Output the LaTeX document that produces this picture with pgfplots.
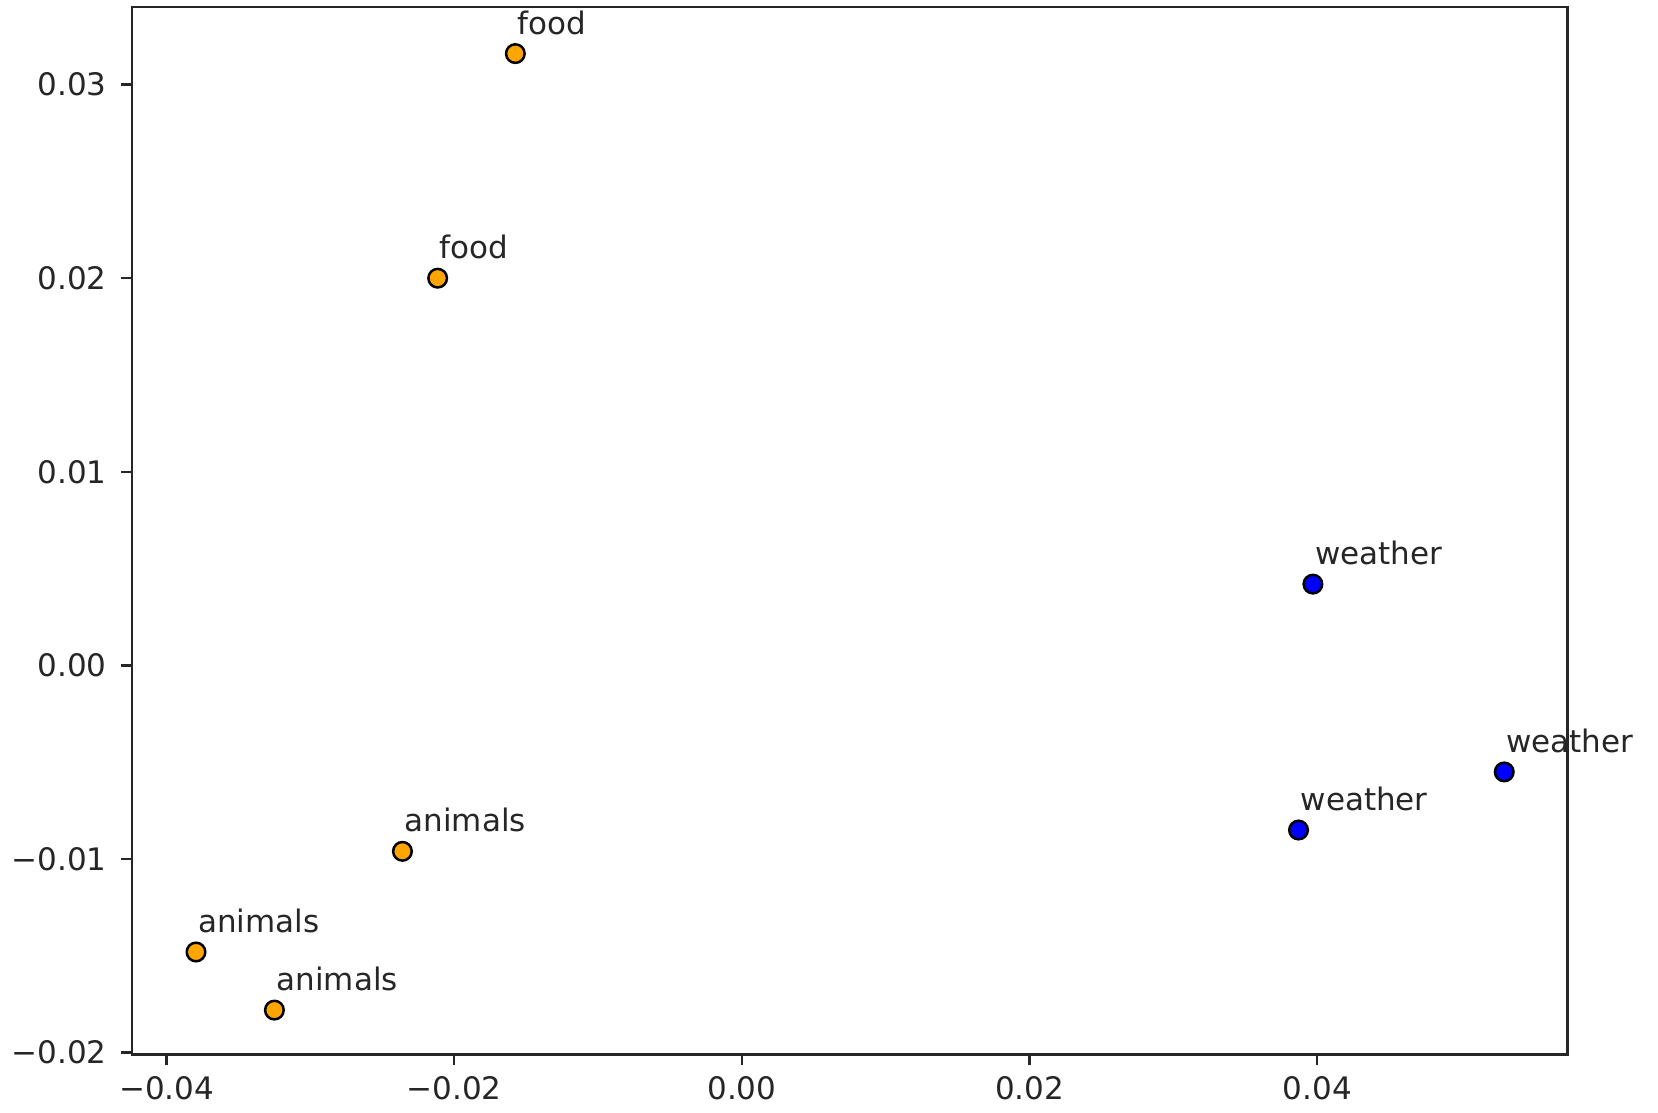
\documentclass[border=0pt]{standalone}
\usepackage{fontspec}
\setmainfont{DejaVu Sans}
\usepackage{pgfplots}
\usepackage{pgfplotstable}
\pgfplotsset{compat=1.18}
\definecolor{mplorange}{HTML}{FFA500}
\definecolor{mplblue}{HTML}{0000FF}
\definecolor{spine}{HTML}{262626}
\pgfplotstableread{
x y label
-0.01575 0.0316 food
-0.02115 0.0200 food
-0.0236 -0.0096 animals
-0.03795 -0.0148 animals
-0.0325 -0.0178 animals
}\orangedata
\pgfplotstableread{
x y label
0.0397 0.0042 weather
0.0530 -0.0055 weather
0.0387 -0.0085 weather
}\bluedata
\begin{document}
\begin{tikzpicture}
\begin{axis}[name=ax, scale only axis, width=463.2pt, height=338pt,
  xmin=-0.0424, xmax=0.0574, ymin=-0.0201, ymax=0.0340,
  scaled ticks=false,
  xtick={-0.04,-0.02,0,0.02,0.04},
  xticklabels={−0.04,−0.02,0.00,0.02,0.04},
  ytick={-0.02,-0.01,0,0.01,0.02,0.03},
  yticklabels={−0.02,−0.01,0.00,0.01,0.02,0.03},
  tick align=outside, tick pos=left, major tick length=3.5pt,
  tick style={spine, line width=0.8pt},
  axis line style={spine, line width=0.8pt},
  ticklabel style={font=\fontsize{10}{12}\selectfont, text=spine},
  yticklabel style={xshift=-1.2pt},
  clip=false,
  nodes near coords, point meta=explicit symbolic,
  every node near coord/.style={anchor=base west, inner sep=0pt, xshift=0.3pt, yshift=6.3pt, font=\fontsize{10}{12}\selectfont, text=spine},
]
\addplot[only marks, mark=*, mark size=3pt, mark options={fill=mplorange, draw=black, line width=0.8pt}] table[x=x, y=y, meta=label] {\orangedata};
\addplot[only marks, mark=*, mark size=3pt, mark options={fill=mplblue, draw=black, line width=0.8pt}] table[x=x, y=y, meta=label] {\bluedata};
\end{axis}
\pgfresetboundingbox
\useasboundingbox ([shift={(-42.6pt,-18.6pt)}]ax.south west) rectangle ([shift={(29.2pt,2.3pt)}]ax.north east);
\end{tikzpicture}
\end{document}
